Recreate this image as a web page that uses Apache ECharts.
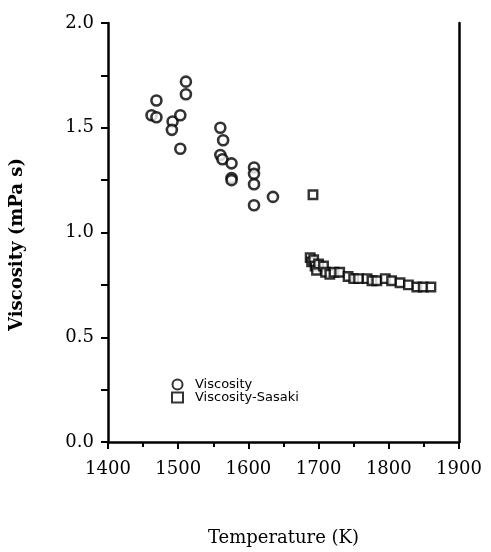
<!DOCTYPE html>
<html><head><meta charset="utf-8">
<script src="https://cdn.jsdelivr.net/npm/echarts@6/dist/echarts.min.js"></script>
<style>html,body{margin:0;padding:0;background:#fff}#c{width:491px;height:552px}</style>
</head><body><div id="c"></div>
<script>
// Viscosity (circles)
const visT = [1469,1462,1469,1492,1503,1491,1503,1511,1511,1560,1564,1560,1563,1576,1576,1576,1608,1608,1608,1608,1635];
const visV = [1.63,1.56,1.55,1.53,1.56,1.49,1.40,1.72,1.66,1.50,1.44,1.37,1.35,1.33,1.26,1.25,1.31,1.28,1.23,1.13,1.17];
// Viscosity-Sasaki (squares)
const sasT = [1692,1688,1690,1693,1695,1697,1700,1707,1710,1716,1722,1730,1742,1750,1757,1769,1776,1783,1795,1804,1816,1828,1840,1849,1860];
const sasV = [1.18,0.88,0.86,0.87,0.84,0.82,0.85,0.84,0.81,0.80,0.81,0.81,0.79,0.78,0.78,0.78,0.77,0.77,0.78,0.77,0.76,0.75,0.74,0.74,0.74];
const xTicks = [1400,1500,1600,1700,1800,1900];
const yTicks = [0.0,0.5,1.0,1.5,2.0];

const zip = (a,b)=>a.map((v,i)=>[v,b[i]]);
const chart = echarts.init(document.getElementById('c'));
const serif = '"DejaVu Serif","Liberation Serif",serif';
chart.setOption({
  animation:false,
  grid:{left:108,right:32,top:23,bottom:101},
  legend:{
    left:166,top:373,orient:'vertical',itemGap:0,itemWidth:11,itemHeight:10,
    textStyle:{fontFamily:'"DejaVu Sans",sans-serif',fontSize:13,color:'#000',lineHeight:10,padding:[0,0,0,7]},
    data:['Viscosity','Viscosity-Sasaki']
  },
  xAxis:{
    type:'value',min:xTicks[0],max:xTicks[xTicks.length-1],interval:100,
    name:'Temperature (K)',nameLocation:'middle',nameGap:87,
    nameTextStyle:{fontFamily:serif,fontSize:18,color:'#000'},
    axisLine:{onZero:false,lineStyle:{color:'#000',width:2.5}},
    axisTick:{length:7,lineStyle:{color:'#000',width:2}},
    minorTick:{show:true,splitNumber:2,length:5,lineStyle:{color:'#000',width:2}},
    axisLabel:{fontFamily:serif,fontSize:18,color:'#000',margin:18,formatter:v=>String(v)},
    splitLine:{show:false}
  },
  yAxis:[{
    type:'value',min:yTicks[0],max:yTicks[yTicks.length-1],interval:0.5,
    name:'Viscosity (mPa s)',nameLocation:'middle',nameGap:82,
    nameTextStyle:{fontFamily:serif,fontSize:18,fontWeight:'bold',color:'#000',padding:[0,24,0,0]},
    axisLine:{onZero:false,lineStyle:{color:'#000',width:2.5}},
    axisTick:{length:7,lineStyle:{color:'#000',width:2}},
    minorTick:{show:true,splitNumber:2,length:7,lineStyle:{color:'#000',width:2}},
    axisLabel:{fontFamily:serif,fontSize:18,color:'#000',margin:14,formatter:v=>v.toFixed(1)},
    splitLine:{show:false}
  },{
    type:'value',min:0,max:2,position:'right',
    axisLine:{show:true,onZero:false,lineStyle:{color:'#000',width:2.5}},
    axisTick:{show:false},axisLabel:{show:false},splitLine:{show:false}
  }],
  series:[
    {name:'Viscosity',type:'scatter',symbol:'circle',symbolSize:10,
     itemStyle:{color:'#fff',borderColor:'#000',borderWidth:2.6},
     data:zip(visT,visV)},
    {name:'Viscosity-Sasaki',type:'scatter',symbol:'rect',symbolSize:8.5,
     itemStyle:{color:'#fff',borderColor:'#000',borderWidth:2.4},
     data:zip(sasT,sasV)}
  ]
});
</script></body></html>
